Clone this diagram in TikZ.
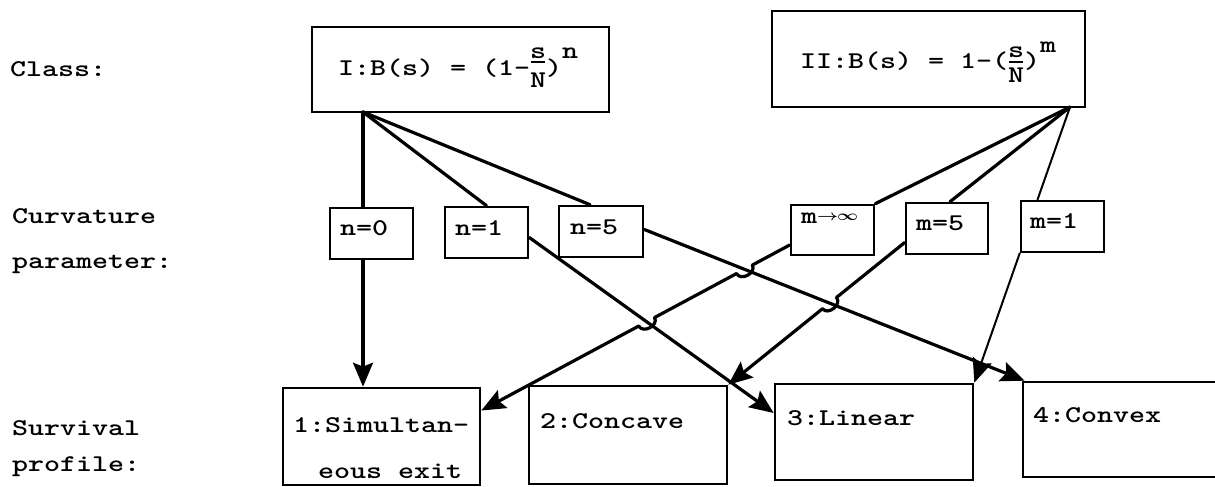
\documentclass[tikz,border=0pt]{standalone}
\usepackage{graphicx}
\usepackage{amsmath}
\usetikzlibrary{arrows.meta,calc}
\newcommand\tw[1]{\scalebox{1.27}[1]{\fontsize{24}{28}\selectfont\ttfamily\bfseries #1}}
% fraction built from full-size characters: #1 over #2, raises #3 (numerator), #4 (bar), #5 (denominator)
\newcommand\frc[5]{\rlap{\raisebox{#3}{\makebox[12.6pt]{#1}}}\rlap{\raisebox{#4}{\makebox[12.6pt]{\rule{11pt}{1.8pt}}}}\raisebox{#5}{\makebox[12.6pt]{#2}}}
\newcommand\mkhop[3]{%
  \coordinate (#1a) at ($(#1)!9pt!(#2)$);
  \coordinate (#1b) at ($(#1)!9pt!(#3)$);
  \coordinate (#1c) at ($(#1a)!1!90:(#1)$);
  \coordinate (#1d) at ($(#1b)!1!-90:(#1)$);}
\tikzset{
  box/.style={draw, line width=2.6pt, inner sep=0pt},
  txt/.style={anchor=base west, inner sep=0pt},
  conn/.style={line width=3.2pt, line cap=round, line join=round},
  thinconn/.style={line width=2pt, line cap=round},
  arr/.style={-{Stealth[length=24pt,width=20pt,inset=4pt]}},
}
\begin{document}
\begin{tikzpicture}[x=1pt,y=-1pt]
\useasboundingbox (0,0) rectangle (1215,487);
\clip (0,0) rectangle (1215,487);
% row labels
\node[txt] (lclass) at (10,77) {\tw{Class:}};
\node[txt] (lcurv) at (12,223) {\tw{Curvature}};
\node[txt] (lpar) at (12,268) {\tw{parameter:}};
\node[txt] (lsurv) at (12,435) {\tw{Survival}};
\node[txt] (lprof) at (12,471) {\tw{profile:}};
% class boxes
\node[box, minimum width=297pt, minimum height=85pt] (I) at (460.5,69.5) {};
\node[box, minimum width=313pt, minimum height=96pt] (II) at (928.5,59) {};
\node[txt] (tI) at (338,75) {\tw{I:B(s) = (1-\frc{s}{N}{17pt}{12pt}{-13pt})\raisebox{17pt}{n}}};
\node[txt] (tII) at (800,68) {\tw{II:B(s) = 1-(\frc{s}{N}{10pt}{5pt}{-14pt})\raisebox{16pt}{m}}};
% parameter boxes
\node[box, minimum width=83pt, minimum height=51pt] (n0) at (371.5,233.5) {};
\node[box, minimum width=83pt, minimum height=51pt] (n1) at (486.5,232.5) {};
\node[box, minimum width=84pt, minimum height=51pt] (n5) at (601,231.5) {};
\node[box, minimum width=83pt, minimum height=50pt] (minf) at (832.5,230) {};
\node[box, minimum width=82pt, minimum height=51pt] (m5) at (947,228.5) {};
\node[box, minimum width=83pt, minimum height=51pt] (m1) at (1062.5,226.5) {};
\node[txt] (tn0) at (340,235) {\tw{n=0}};
\node[txt] (tn1) at (455,235) {\tw{n=1}};
\node[txt] (tn5) at (570,234) {\tw{n=5}};
\node[txt] (tminf) at (801,223) {\tw{m\raisebox{3pt}{\fontsize{14}{14}\selectfont$\boldsymbol{\rightarrow}\!\!\boldsymbol{\infty}$}}};
\node[txt] (tm5) at (916,230) {\tw{m=5}};
\node[txt] (tm1) at (1030,228) {\tw{m=1}};
% profile boxes
\node[box, minimum width=197pt, minimum height=97pt] (b1) at (381.5,436.5) {};
\node[box, minimum width=198pt, minimum height=98pt] (b2) at (628,435) {};
\node[box, minimum width=198pt, minimum height=96pt] (b3) at (874,432) {};
\node[box, minimum width=212pt, minimum height=95pt] (b4) at (1129,429.5) {};
\node[txt] (tb1a) at (293,432) {\tw{1:Simultan-}};
\node[txt] (tb1b) at (318,478) {\tw{eous exit}};
\node[txt] (tb2) at (540,428) {\tw{2:Concave}};
\node[txt] (tb3) at (787,425) {\tw{3:Linear}};
\node[txt] (tb4) at (1033,422) {\tw{4:Convex}};
% connector end points
\coordinate (Iout) at (363,112);
\coordinate (IIout) at (1070,107);
\coordinate (mS) at ([yshift=-15pt]minf.west);
\coordinate (mE) at ([yshift=26pt]b1.east);
\coordinate (n5S) at ([yshift=2pt]n5.east);
\coordinate (n5E) at ([xshift=3pt]b4.north west);
\coordinate (n1S) at ([yshift=-5pt]n1.east);
\coordinate (n1E) at ([yshift=19pt]b3.west);
\coordinate (m5S) at ([yshift=-14pt]m5.west);
\coordinate (m5E) at (b2.north east);
\coordinate (X1) at (intersection of mS--mE and n5S--n5E);
\coordinate (X2) at (intersection of mS--mE and n1S--n1E);
\coordinate (X3) at (intersection of m5S--m5E and n5S--n5E);
\mkhop{X1}{mS}{mE}
\mkhop{X2}{mS}{mE}
\mkhop{X3}{m5S}{m5E}
% class to parameter
\draw[conn] (Iout) -- (Iout |- n0.north);
\draw[conn] (Iout) -- (n1.north);
\draw[conn] (Iout) -- ([xshift=-11pt]n5.north);
\draw[conn] (IIout) -- (minf.north east);
\draw[conn] (IIout) -- ([xshift=3pt]m5.north);
\draw[thinconn] (IIout) -- ([xshift=-25pt]m1.north);
% parameter to profile
\draw[conn,arr] (Iout |- n0.south) -- (Iout |- b1.north);
\draw[conn,arr] (n1S) -- (n1E);
\draw[conn,arr] (n5S) -- (n5E);
\draw[conn,arr] (mS) -- (X1a) .. controls (X1c) and (X1d) .. (X1b) -- (X2a) .. controls (X2c) and (X2d) .. (X2b) -- (mE);
\draw[conn,arr] (m5S) -- (X3a) .. controls (X3c) and (X3d) .. (X3b) -- (m5E);
\draw[thinconn,arr] (m1.south west) -- (b3.north east);
\end{tikzpicture}
\end{document}
